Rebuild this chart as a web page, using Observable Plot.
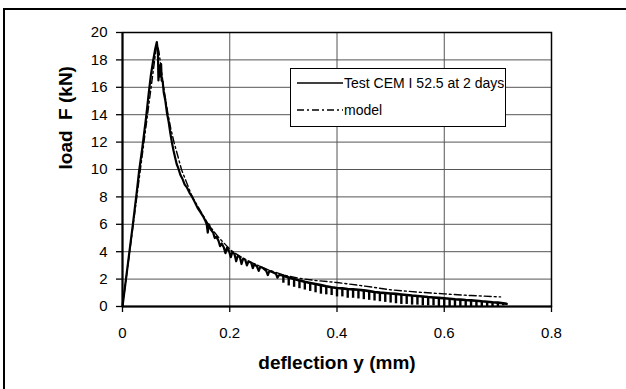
<!DOCTYPE html>
<html>
<head>
<meta charset="utf-8">
<script src="https://cdn.jsdelivr.net/npm/d3@7"></script>
<script src="https://cdn.jsdelivr.net/npm/@observablehq/plot@0.6"></script>
<style>
  html, body { margin: 0; padding: 0; background: #fff; }
  #wrap { position: relative; width: 626px; height: 389px; overflow: hidden; font-family: "Liberation Sans", Arial, sans-serif; }
  #outer { position: absolute; left: 3px; top: 8px; right: 0; bottom: 0; border-top: 2px solid #000; border-left: 2px solid #000; pointer-events: none; }
  #legend { position: absolute; left: 290px; top: 68px; width: 214px; height: 57px; border: 1.5px solid #000; background: #fff; font-size: 14px; color: #000; }
  #legend .row { position: absolute; left: 6px; height: 20px; display: flex; align-items: center; white-space: nowrap; }
  #legend svg { display: block; margin-right: 1px; }
</style>
</head>
<body>
<div id="wrap"></div>
<script>
// ---- data ----
const xTicks = [0, 0.2, 0.4, 0.6, 0.8];
const yTicks = [0, 2, 4, 6, 8, 10, 12, 14, 16, 18, 20];
const seriesNames = ["Test CEM I 52.5 at 2 days", "model"];

// measured test curve, rising branch and noisy softening branch [deflection mm, load kN]
const testCurve = [
  [0,0],[0.010,3.1],[0.020,6.2],[0.027,8.5],[0.031,9.9],[0.037,11.6],[0.044,13.8],[0.049,15.6],
  [0.053,16.9],[0.057,17.9],[0.061,18.8],[0.064,19.3],[0.066,18.6],[0.067,16.5],[0.069,17.6],
  [0.070,16.8],[0.072,17.7],[0.073,16.5],[0.075,16.4],[0.077,15.6],[0.080,15.0],[0.083,14.1],
  [0.086,13.5],[0.089,12.7],[0.092,12.0],[0.095,11.4],[0.098,10.9],[0.101,10.4],[0.104,10.1],
  [0.108,9.6],[0.112,9.3],[0.116,8.9],[0.120,8.7],[0.125,8.3],[0.130,8.0],[0.135,7.6],[0.140,7.2],
  [0.145,6.9],[0.150,6.6],[0.154,6.3],[0.157,6.0],[0.159,5.4],[0.161,6.0],[0.165,5.6],[0.169,5.4],
  [0.172,5.0],[0.175,5.1],[0.179,4.8],[0.182,4.4],[0.185,4.6],[0.189,4.3],[0.192,3.9],[0.195,4.3],
  [0.199,4.0],[0.202,3.6],[0.205,4.0],[0.209,3.8],[0.212,3.3],[0.215,3.7],[0.219,3.6],[0.222,3.1],
  [0.225,3.5],[0.229,3.4],[0.232,3.0],[0.235,3.3],[0.240,3.2],[0.243,2.8],[0.246,3.1],[0.251,2.9],
  [0.254,2.6],[0.257,2.9],[0.262,2.8],[0.268,2.6],[0.271,2.3],[0.274,2.6],[0.280,2.5],[0.286,2.4],
  [0.289,2.1],[0.292,2.3],[0.300,2.25]
];

// tail of the test: unloading cycles — deflection, upper load, lowest load of each cycle
const tailX   = [0.30,0.31,0.32,0.33,0.34,0.35,0.36,0.37,0.38,0.39,0.40,0.41,0.42,0.43,0.44,0.45,0.46,0.47,0.48,0.49,0.50,0.51,0.52,0.53,0.54,0.55,0.56,0.57,0.58,0.59,0.60,0.61,0.62,0.63,0.64,0.65,0.66,0.67,0.68,0.69,0.70,0.71,0.716];
const tailTop = [2.25,2.12,2.00,1.90,1.80,1.72,1.64,1.56,1.48,1.41,1.35,1.32,1.28,1.25,1.22,1.18,1.12,1.06,1.01,0.98,0.95,0.92,0.88,0.84,0.80,0.77,0.73,0.69,0.66,0.63,0.60,0.57,0.53,0.50,0.47,0.45,0.42,0.38,0.35,0.31,0.28,0.24,0.20];
const tailLow = [1.70,1.50,1.40,1.30,1.20,1.10,1.00,0.90,0.85,0.80,0.70,0.70,0.60,0.60,0.55,0.50,0.45,0.40,0.35,0.30,0.25,0.20,0.15,0.15,0.10,0.10,0.05,0.05,0.05,0.00,0.00,0.00,0.00,0.00,0.00,0.00,0.00,0.00,0.00,0.00,0.00,0.05,0.10];

// model curve [deflection mm, load kN]
const modelCurve = [
  [0,0],[0.064,19.2],[0.068,18.6],[0.072,17.4],[0.076,16.2],[0.080,15.2],[0.085,14.0],[0.090,13.0],
  [0.096,12.0],[0.103,11.0],[0.110,10.0],[0.120,9.0],[0.130,8.0],[0.145,7.0],[0.160,6.0],[0.180,5.0],
  [0.205,4.0],[0.235,3.3],[0.270,2.7],[0.300,2.3],[0.330,2.05],[0.360,1.9],[0.400,1.75],[0.450,1.5],
  [0.500,1.22],[0.550,1.05],[0.600,0.92],[0.650,0.8],[0.705,0.7]
];

const tail = tailX.map((x, i) => ({x, top: tailTop[i], low: tailLow[i]}));

const chart = Plot.plot({
  width: 626,
  height: 389,
  marginLeft: 122,
  marginRight: 75,
  marginTop: 32,
  marginBottom: 83,
  style: { fontFamily: "'Liberation Sans', Arial, sans-serif", fontSize: "15px", color: "#000", background: "#fff" },
  x: { domain: [0, 0.8] },
  y: { domain: [0, 20] },
  marks: [
    Plot.gridX({ ticks: xTicks, stroke: "#555", strokeOpacity: 1, strokeWidth: 1 }),
    Plot.gridY({ ticks: yTicks, stroke: "#555", strokeOpacity: 1, strokeWidth: 1 }),
    Plot.frame({ stroke: "#000", strokeWidth: 1.5 }),
    Plot.ruleX([0], { stroke: "#000", strokeWidth: 2 }),
    Plot.ruleY([0], { stroke: "#000", strokeWidth: 2 }),
    Plot.line(modelCurve, { x: d => d[0], y: d => d[1], stroke: "#000", strokeWidth: 1.4, strokeDasharray: "7,3,2,3" }),
    Plot.line(testCurve, { x: d => d[0], y: d => d[1], stroke: "#000", strokeWidth: 2.2 }),
    Plot.ruleX(tail, { x: "x", y1: "low", y2: "top", stroke: "#000", strokeWidth: 2.4 }),
    Plot.line(tail, { x: "x", y: "top", stroke: "#000", strokeWidth: 2.6 }),
    Plot.axisX({ ticks: xTicks, tickSize: 6, tickPadding: 15, tickFormat: d => String(d), label: null, strokeWidth: 1.3, fontSize: 15 }),
    Plot.axisY({ ticks: yTicks, tickSize: 6, tickPadding: 9, tickFormat: d => String(d), label: null, strokeWidth: 1.3, fontSize: 15 }),
    Plot.text(["load  F (kN)"], { text: d => d, frameAnchor: "left", dx: -57, rotate: -90, fontWeight: "bold", fontSize: 19 }),
    Plot.text(["deflection y (mm)"], { text: d => d, frameAnchor: "bottom", dy: 62, fontWeight: "bold", fontSize: 19 })
  ]
});

const wrap = document.getElementById("wrap");
wrap.appendChild(chart);

const outer = document.createElement("div");
outer.id = "outer";
wrap.appendChild(outer);

const legend = document.createElement("div");
legend.id = "legend";
const dashes = ["none", "7,3,2,3"];
seriesNames.forEach((name, i) => {
  const row = document.createElement("div");
  row.className = "row";
  row.style.top = (i === 0 ? 4 : 31) + "px";
  row.innerHTML = `<svg width="46" height="6"><line x1="0" y1="3" x2="46" y2="3" stroke="#000" stroke-width="${i === 0 ? 1.7 : 1.3}" stroke-dasharray="${dashes[i]}"/></svg><span>${name}</span>`;
  legend.appendChild(row);
});
wrap.appendChild(legend);
</script>
</body>
</html>
